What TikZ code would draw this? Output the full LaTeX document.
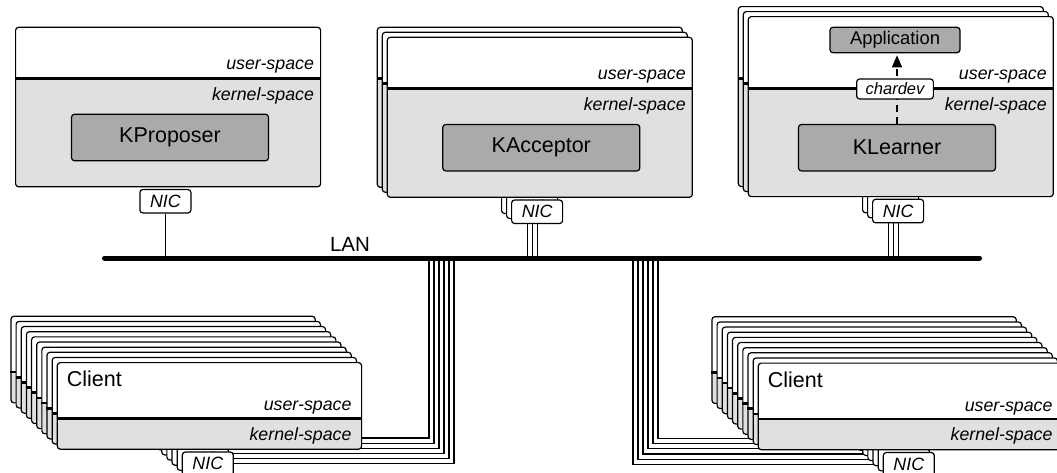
\documentclass[tikz,border=0pt]{standalone}
\usepackage{fontspec}
\setmainfont{Liberation Sans}
\usetikzlibrary{arrows.meta,calc}
\pgfdeclarelayer{wires}
\pgfsetlayers{wires,main}
\definecolor{kgray}{RGB}{224,224,224}
\definecolor{igray}{RGB}{170,170,170}
\tikzset{
  hostbox/.style 2 args={draw, line width=1.2pt, rounded corners=3pt, fill=white,
    minimum width=305pt, minimum height=#1pt, inner sep=0pt, anchor=north west,
    path picture={\fill[kgray] ([yshift=-#2pt]path picture bounding box.north west)
      rectangle ([yshift=-10pt]path picture bounding box.south east);}},
  divline/.style={line width=2.6pt},
  spacelbl/.style={font=\fontsize{17.8}{20}\selectfont\itshape, inner sep=0pt},
  nicbox/.style={draw, line width=1.2pt, fill=white, rounded corners=3pt,
    minimum width=51pt, minimum height=23.5pt, inner sep=0pt, anchor=north west,
    font=\fontsize{17.8}{20}\selectfont\itshape},
  procbox/.style={draw, line width=1.2pt, fill=igray, rounded corners=3pt,
    minimum width=197pt, minimum height=46.5pt, inner sep=0pt,
    font=\fontsize{21.5}{24}\selectfont},
  appbox/.style={draw, line width=1.2pt, fill=igray, rounded corners=3pt,
    minimum width=130pt, minimum height=25.4pt, inner sep=0pt,
    font=\fontsize{18.4}{20}\selectfont},
  devbox/.style={draw, line width=1.2pt, fill=white, rounded corners=3pt,
    minimum width=76.7pt, minimum height=20pt, inner sep=0pt,
    font=\fontsize{16.5}{18}\selectfont\itshape},
  biglbl/.style={font=\fontsize{21.5}{24}\selectfont, inner sep=0pt},
  lanlbl/.style={font=\fontsize{20.5}{22}\selectfont, inner sep=0pt},
  wire/.style={line width=1.2pt},
  lanbus/.style={line width=5pt, line cap=round},
  flow/.style={line width=1.2pt, dash pattern=on 7pt off 5pt,
    -{Triangle[length=12pt,width=10pt]}, shorten >=2pt}
}
% server host: name, x, y, height, divider offset
\newcommand\srvhost[5]{%
  \node[hostbox={#4}{#5}] (#1) at (#2,#3) {};
  \draw[divline] ([yshift={-#5*1pt}]#1.north west) -- ([yshift={-#5*1pt}]#1.north east);
  \node[spacelbl, anchor=base east] (#1u) at ([xshift=-7pt, yshift={-(#5-8.8)*1pt}]#1.north east) {user-space};
  \node[spacelbl, anchor=base east] (#1k) at ([xshift=-7pt, yshift={-(#5+21.7)*1pt}]#1.north east) {kernel-space};
  \node[nicbox] (#1nic) at ([xshift=124.3pt, yshift=-1.5pt]#1.south west) {NIC};
}
% client host: name, x, y
\newcommand\clhost[3]{%
  \node[hostbox={86.6}{56.5}, minimum width=304.3pt] (#1) at (#2,#3) {};
  \draw[divline] ([yshift=-56.5pt]#1.north west) -- ([yshift=-56.5pt]#1.north east);
  \node[biglbl, anchor=base west] (#1t) at ([xshift=10pt, yshift=-24.5pt]#1.north west) {Client};
  \node[spacelbl, anchor=base east] (#1u) at ([xshift=-10.5pt, yshift=-48.9pt]#1.north east) {user-space};
  \node[spacelbl, anchor=base east] (#1k) at ([xshift=-10.5pt, yshift=-78.2pt]#1.north east) {kernel-space};
  \node[nicbox] (#1nic) at ([xshift=125pt, yshift=-1.6pt]#1.south west) {NIC};
}
\begin{document}
\begin{tikzpicture}[x=1pt,y=-1pt]
\useasboundingbox (0,0) rectangle (1057,472);

% Proposer
\srvhost{prop}{15}{26.7}{159.5}{51.6}
\node[procbox] (kprop) at (170,137.5) {KProposer};

% Acceptors
\foreach \k in {2,1,0}{\srvhost{acc\k}{386.7-5*\k}{36.7-5*\k}{160}{51.6}}
\node[procbox] (kacc) at (541.3,147.7) {KAcceptor};

% Learners
\foreach \k in {2,1,0}{\srvhost{lrn\k}{747.7-5*\k}{16-5*\k}{180}{72.3}}
\node[procbox] (klearner) at (897,147.7) {KLearner};
\node[appbox] (app) at (895,40) {Application};
\draw[flow] (klearner.north) -- (klearner.north |- app.south);
\node[devbox] (chardev) at (895,89) {chardev};

% Clients
\foreach \k in {9,8,...,0}{\clhost{cl\k}{56.7-5.15*\k}{362-5.15*\k}}
\foreach \k in {9,8,...,0}{\clhost{cr\k}{757.7-5.15*\k}{362.5-5.15*\k}}

% LAN
\coordinate (lanW) at (104.5,258);
\coordinate (lanE) at (979.5,258);
\node[lanlbl, anchor=base] (lanname) at (350,251.5) {LAN};

\begin{pgfonlayer}{wires}
  \draw[wire] (propnic.south) -- (propnic.south |- lanW);
  \foreach \k in {0,1,2}{
    \draw[wire] (acc\k nic.south) -- (acc\k nic.south |- lanW);
    \draw[wire] (lrn\k nic.south) -- (lrn\k nic.south |- lanW);
  }
  \foreach \k in {0,...,5}{
    \coordinate (tapL\k) at ({454-5*\k},258);
    \coordinate (tapR\k) at ({633+5*\k},258);
    \draw[wire] (cl\k nic.east) -| (tapL\k);
    \draw[wire] (cr\k nic.west) -| (tapR\k);
  }
\end{pgfonlayer}
\draw[lanbus] (lanW) -- (lanE);
\end{tikzpicture}
\end{document}
